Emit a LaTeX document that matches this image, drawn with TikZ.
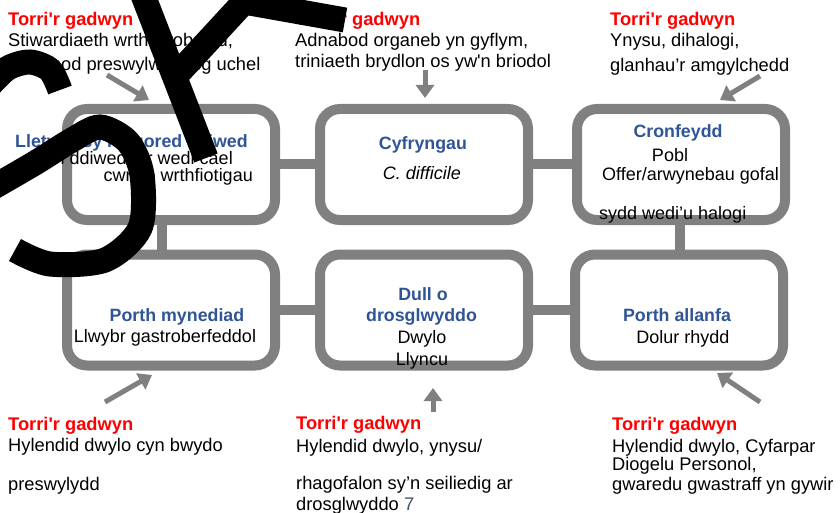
\documentclass[tikz,border=0pt]{standalone}
\usepackage{fontspec}
\setmainfont{Liberation Sans}
\usetikzlibrary{arrows.meta, positioning}

\definecolor{chainred}{HTML}{FF0000}
\definecolor{titleblue}{HTML}{2F5597}
\definecolor{linkgray}{HTML}{808080}
\definecolor{pagenum}{HTML}{44546A}
\newcommand{\sq}{\textquotesingle}

\tikzset{
  linkbox/.style={draw=linkgray, line width=10pt, rounded corners=20pt,
    minimum width=208pt, minimum height=111pt, inner sep=0pt},
  joint/.style={draw=linkgray, line width=10pt},
  breakarrow/.style={draw=linkgray, line width=5pt, -{Triangle[width=18pt,length=13pt]}},
  txt/.style={inner sep=0pt, font=\fontsize{18.3}{22}\selectfont},
  head/.style={inner sep=0pt, font=\fontsize{18.3}{22}\selectfont\bfseries, text=chainred},
  boxtitle/.style={inner sep=0pt, font=\fontsize{17.8}{21}\selectfont\bfseries, text=titleblue},
  boxtxt/.style={inner sep=0pt, font=\fontsize{18}{21}\selectfont},
  scribble/.style={draw=black, line width=25pt}
}

\begin{document}
\begin{tikzpicture}[x=1pt, y=-1pt]
\fill[white] (0,0) rectangle (840,513);
\useasboundingbox (0,0) rectangle (840,513);

% the six links of the chain
\node[linkbox] (host) at (171,164.5) {};
\node[linkbox] (agent) at (424,164.5) {};
\node[linkbox] (reservoir) at (681,164.5) {};
\node[linkbox] (entry) at (171,310) {};
\node[linkbox] (transmit) at (424,310) {};
\node[linkbox] (exit) at (679,310) {};

\draw[joint] (host.east) -- (agent.west);
\draw[joint] (agent.east) -- (reservoir.west);
\draw[joint] (entry.east) -- (transmit.west);
\draw[joint] (transmit.east) -- (exit.west);
\draw[joint] ([xshift=-9pt]host.south) -- ([xshift=-9pt]entry.north);
\draw[joint] ([xshift=-1pt]reservoir.south) -- ([xshift=-1pt]reservoir.south |- exit.north);

% texts in the links
\node[boxtitle, anchor=base west] (hosttitle) at (15,148) {Lletywr sy’n agored i niwed};
\node[boxtxt, anchor=base east] (hostline1) at (233,165) {Yn ddiweddar wedi cael};
\node[boxtxt, anchor=base east] (hostline2) at (253,182) {cwrs o wrthfiotigau};

\node[boxtitle, anchor=base] (agenttitle) at (423,150) {Cyfryngau};
\node[boxtxt, anchor=base] (agentline) at (422,180) {\itshape C. difficile};

\node[boxtitle, anchor=base] (restitle) at (678,138) {Cronfeydd};
\node[boxtxt, anchor=base] (resline1) at (670,162) {Pobl};
\node[boxtxt, anchor=base west] (resline2) at (602,181) {Offer/arwynebau gofal};
\node[boxtxt, anchor=base west] (resline3) at (599,219) {sydd wedi’u halogi};

\node[boxtitle, anchor=base] (entrytitle) at (177,321) {Porth mynediad};
\node[boxtxt, anchor=base] (entryline) at (165,342) {Llwybr gastroberfeddol};

\node[boxtitle, anchor=base] (transtitle1) at (423,300) {Dull o};
\node[boxtitle, anchor=base] (transtitle2) at (421.5,321) {drosglwyddo};
\node[boxtxt, anchor=base] (transline1) at (422,343) {Dwylo};
\node[boxtxt, anchor=base] (transline2) at (422,365) {Llyncu};

\node[boxtitle, anchor=base] (exittitle) at (677,321) {Porth allanfa};
\node[boxtxt, anchor=base] (exitline) at (683,343) {Dolur rhydd};

% breaking the chain
\node[head, anchor=base west] (hostbreak) at (8,26) {Torri\sq r gadwyn};
\node[txt, anchor=base west] (hostbreak1) at (8,47) {Stiwardiaeth wrthficrobaidd,};
\node[txt, anchor=base west] (hostbreak2) at (8,71) {Adnabod preswylwyr risg uchel};

\node[head, anchor=base west] (agentbreak) at (295,26) {Torri\sq r gadwyn};
\node[txt, anchor=base west] (agentbreak1) at (295,47) {Adnabod organeb yn gyflym,};
\node[txt, anchor=base west] (agentbreak2) at (295,68) {triniaeth brydlon os yw\sq n briodol};

\node[head, anchor=base west] (resbreak) at (610,26) {Torri\sq r gadwyn};
\node[txt, anchor=base west] (resbreak1) at (610,47) {Ynysu, dihalogi,};
\node[txt, anchor=base west] (resbreak2) at (610,72) {glanhau’r amgylchedd};

\node[head, anchor=base west] (entrybreak) at (8,430) {Torri\sq r gadwyn};
\node[txt, anchor=base west] (entrybreak1) at (8,451) {Hylendid dwylo cyn bwydo};
\node[txt, anchor=base west] (entrybreak2) at (8,490) {preswylydd};

\node[head, anchor=base west] (transbreak) at (296,429) {Torri\sq r gadwyn};
\node[txt, anchor=base west] (transbreak1) at (296,452) {Hylendid dwylo, ynysu/};
\node[txt, anchor=base west] (transbreak2) at (296,489) {rhagofalon sy’n seiliedig ar};
\node[txt, anchor=base west] (transbreak3) at (296,510) {drosglwyddo {\color{pagenum}7}};

\node[head, anchor=base west] (exitbreak) at (612,430) {Torri\sq r gadwyn};
\node[txt, anchor=base west] (exitbreak1) at (612,452) {Hylendid dwylo, Cyfarpar};
\node[txt, anchor=base west] (exitbreak2) at (612,470) {Diogelu Personol,};
\node[txt, anchor=base west] (exitbreak3) at (612,490) {gwaredu gwastraff yn gywir};

% arrows towards the links
\coordinate (hosttail) at (107,75);
\coordinate (hosttip) at (149,100);
\coordinate (agenttail) at (425,70);
\coordinate (agenttip) at (425,98);
\coordinate (restail) at (760,76);
\coordinate (restip) at (720,100);
\coordinate (entrytail) at (105,402);
\coordinate (entrytip) at (152,375);
\coordinate (transtail) at (433,412);
\coordinate (transtip) at (433,388);
\coordinate (exittail) at (760,402);
\coordinate (exittip) at (717,373);
\draw[breakarrow] (hosttail) -- (hosttip);
\draw[breakarrow] (agenttail) -- (agenttip);
\draw[breakarrow] (restail) -- (restip);
\draw[breakarrow] (entrytail) -- (entrytip);
\draw[breakarrow] (transtail) -- (transtip);
\draw[breakarrow] (exittail) -- (exittip);

% black strokes over the top left
\begin{scope}
\clip (0,0) rectangle (840,513);
\draw[scribble] (141,-10) -- (206,158);
\draw[scribble, line join=round] (172,80) -- (244,2) -- (345,20);
\draw[scribble] plot[smooth] coordinates {(-10,85) (8,68) (30,62) (50,70) (60,90)};
\draw[scribble] plot[smooth] coordinates {(-15,192) (35,163) (72,140) (100,127) (128,142) (142,175) (140,228) (105,260) (50,264) (15,250)};
\end{scope}
\end{tikzpicture}
\end{document}
